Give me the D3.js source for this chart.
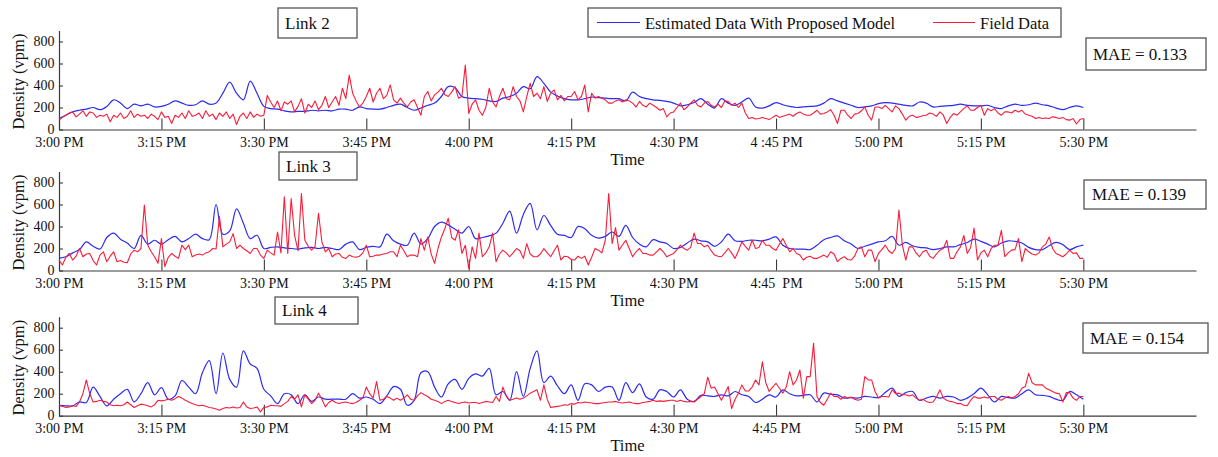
<!DOCTYPE html>
<html>
<head>
<meta charset="utf-8">
<script src="https://cdn.jsdelivr.net/npm/d3@7"></script>
<style>
  body { margin: 0; background: #fff; }
  text { font-family: "Liberation Serif", "Times New Roman", serif; fill: #111; white-space: pre; }
</style>
</head>
<body>
<svg id="chart" width="1218" height="457"></svg>
<script>
// ---- data ---------------------------------------------------------------
const linkNames = ["Link 2", "Link 3", "Link 4"];
const maeValues = [0.133, 0.139, 0.154];
const seriesNames = ["Estimated Data With Proposed Model", "Field Data"];
const yTickValues = [0, 200, 400, 600, 800];
const xTickLabelsLink2 = ["3:00 PM","3:15 PM","3:30 PM","3:45 PM","4:00 PM","4:15 PM","4:30 PM","4 :45 PM","5:00 PM","5:15 PM","5:30 PM"];
const xTickLabelsLink3 = ["3:00 PM","3:15 PM","3:30 PM","3:45 PM","4:00 PM","4:15 PM","4:30 PM","4:45  PM","5:00 PM","5:15 PM","5:30 PM"];
const xTickLabelsLink4 = ["3:00 PM","3:15 PM","3:30 PM","3:45 PM","4:00 PM","4:15 PM","4:30 PM","4:45 PM","5:00 PM","5:15 PM","5:30 PM"];

// Estimated density (vpm), one value per minute from 3:00 PM to 5:30 PM
const link2Estimated = [100,130,160,175,185,200,180,210,270,240,190,230,215,230,205,210,230,260,240,220,
  225,260,230,240,330,430,330,270,440,330,210,190,185,170,160,165,165,175,170,175,
  170,185,185,175,205,190,185,185,200,220,230,200,175,195,220,240,300,390,380,300,
  285,280,275,260,255,285,300,330,390,370,480,420,340,305,280,270,270,280,295,290,
  285,280,280,260,340,300,280,270,265,255,240,215,225,245,280,230,195,280,240,220,
  250,285,205,195,215,245,225,210,200,205,210,215,240,280,260,240,220,200,205,215,
  235,245,240,230,220,215,250,240,205,210,215,220,230,220,215,215,220,200,190,215,
  230,220,225,240,225,215,195,180,200,215,200];
const link3Estimated = [110,125,160,190,260,220,195,300,340,285,250,200,320,240,275,240,280,310,260,290,
  330,290,280,600,330,360,560,430,290,320,200,210,215,205,200,195,205,210,200,210,
  200,190,240,260,190,210,220,215,330,270,240,230,340,240,290,400,440,415,375,340,
  400,290,300,315,340,430,540,340,510,610,370,500,410,330,320,300,400,380,320,295,
  310,350,310,410,300,240,215,280,260,245,200,210,250,285,270,260,220,260,330,270,
  265,275,275,270,285,305,230,200,195,195,190,230,280,300,315,270,240,200,220,240,
  260,270,310,230,255,225,210,205,190,200,215,215,235,255,285,265,240,215,250,270,
  265,250,210,190,190,225,255,235,190,215,230];
const link4Estimated = [95,90,90,125,120,260,175,90,150,200,240,125,200,300,190,255,150,180,320,260,
  200,390,500,200,570,330,260,590,470,430,240,180,110,200,190,110,190,130,170,150,
  150,150,150,200,160,170,150,110,180,265,240,95,140,390,400,260,170,290,330,240,
  340,380,360,430,190,220,140,400,175,430,590,300,360,270,200,280,140,290,280,220,
  260,260,140,300,210,290,170,150,235,220,170,235,150,130,185,180,175,190,180,220,
  190,175,120,150,190,170,235,200,180,185,190,125,205,195,190,160,165,160,175,170,
  165,210,250,175,210,220,140,160,175,160,175,170,140,160,200,250,190,125,175,165,
  160,200,235,190,185,175,150,140,220,190,150];

// Field density (vpm), one value per 30 seconds from 3:00 PM to 5:30 PM
const link2Field = [85,110,130,150,160,115,140,170,120,160,150,110,130,120,140,70,130,110,150,100,
  120,170,110,140,120,130,100,140,120,90,160,110,120,55,130,110,150,100,170,120,
  130,150,100,170,120,140,90,150,120,160,100,140,45,120,150,100,160,110,140,120,
  130,310,250,200,260,170,250,230,260,160,210,280,150,230,200,260,180,220,300,200,
  250,300,220,375,280,495,330,260,205,240,300,375,250,330,375,280,310,405,270,240,
  285,240,205,250,270,200,130,300,345,260,315,340,375,315,300,340,390,285,300,585,
  145,230,270,175,130,200,375,250,205,300,375,280,270,390,300,260,160,300,420,300,
  330,280,390,255,330,360,270,310,260,300,300,345,270,300,405,160,330,285,300,285,
  270,240,240,260,270,250,270,260,240,205,255,220,205,240,220,200,175,190,115,150,
  160,200,240,180,205,240,270,220,205,240,255,220,205,230,200,260,255,220,240,200,
  240,150,100,110,95,100,110,100,90,110,130,110,120,130,140,120,145,160,140,130,
  130,150,175,140,145,160,180,130,55,175,175,130,100,140,145,170,205,130,85,205,
  205,190,220,190,160,215,190,140,85,120,130,110,115,125,130,150,140,120,160,130,
  55,110,145,130,160,190,215,175,175,200,220,130,190,170,190,150,130,160,160,150,
  175,160,175,140,130,120,100,110,100,105,100,115,110,100,110,90,85,100,50,90,
  100];
const link3Field = [95,50,120,155,95,130,200,125,150,155,90,50,140,170,80,130,170,80,90,75,
  70,150,185,170,200,595,230,170,125,65,290,35,120,155,130,110,230,190,230,125,
  140,150,140,160,170,200,195,490,215,240,260,335,200,230,200,180,155,200,200,140,
  110,185,160,140,350,160,670,155,655,320,180,700,275,220,185,220,520,260,170,200,
  125,150,155,120,110,140,125,120,130,160,230,125,130,140,140,150,155,170,170,125,
  230,180,125,140,140,125,290,185,305,150,65,200,305,380,475,300,275,370,155,230,
  20,215,110,340,125,160,215,340,80,150,185,160,125,160,200,180,110,245,150,125,
  125,150,200,160,125,180,230,95,130,125,100,95,130,110,130,50,120,200,185,160,
  275,700,245,390,185,230,275,200,125,170,200,155,155,140,140,170,200,170,125,140,
  155,190,230,200,185,210,340,245,245,215,230,180,140,130,125,160,200,160,110,180,
  260,220,185,275,200,210,275,230,230,200,185,240,290,230,170,200,155,140,95,120,
  130,110,110,125,140,120,170,150,80,110,125,100,95,130,200,215,125,185,185,80,
  155,190,230,180,155,200,550,230,95,215,215,160,125,170,185,130,110,150,185,200,
  275,110,110,170,215,320,155,210,385,95,160,185,125,200,230,230,365,125,160,185,
  190,290,80,200,170,150,140,160,215,240,305,200,155,140,125,150,185,155,160,110,
  110];
const link4Field = [90,85,75,80,90,85,125,200,325,200,125,130,140,130,125,100,90,95,90,100,
  125,100,75,90,105,100,90,80,100,140,135,140,150,140,155,175,160,140,125,110,
  100,90,95,85,75,70,60,50,65,75,70,80,70,75,125,80,65,70,80,35,
  75,80,95,90,90,85,110,130,175,150,190,80,190,150,110,140,205,150,80,120,
  140,120,110,120,125,115,110,120,140,160,260,200,160,310,140,150,175,160,140,160,
  140,160,190,150,140,180,210,190,175,150,140,130,110,130,140,130,120,110,120,125,
  115,120,120,110,120,130,125,120,175,130,260,180,140,150,160,150,160,180,205,220,
  235,140,280,150,75,80,85,90,100,95,110,105,120,115,125,120,115,110,110,115,
  120,125,125,130,120,115,120,125,115,110,110,120,125,130,140,130,135,130,135,140,
  140,130,140,130,125,130,125,150,175,200,350,250,260,200,140,200,265,65,150,205,
  280,225,225,260,325,280,490,300,220,260,295,250,205,260,400,280,325,415,160,355,
  355,660,175,120,95,150,205,175,175,150,175,160,170,150,140,150,355,325,325,220,
  160,175,175,170,235,200,205,190,190,180,190,160,140,150,130,120,125,170,235,160,
  140,130,125,110,110,95,90,140,175,160,160,170,160,175,175,150,140,160,175,160,
  175,200,250,265,385,300,280,280,280,250,235,220,205,200,125,210,210,160,140,175,
  175];

const estimatedSeries = [link2Estimated, link3Estimated, link4Estimated];
const fieldSeries = [link2Field, link3Field, link4Field];
const xTickLabelSets = [xTickLabelsLink2, xTickLabelsLink3, xTickLabelsLink4];

// ---- layout -------------------------------------------------------------
const colorEstimated = "#2b2bf2";
const colorField = "#f81c3a";
const axisColor = "#3a3a3a";
const boxColor = "#555";
const plotLeft = 59, plotRight = 1196, plotHeight = 99;
const panels = [
  { base: 129.5, linkBox: [278, 8, 79, 30],  maeBox: [1086, 38, 120, 32], maeText: 1093 },
  { base: 270.5, linkBox: [279, 152, 78, 28], maeBox: [1084, 180, 122, 29], maeText: 1092 },
  { base: 415.7, linkBox: [275, 297, 83, 27], maeBox: [1083, 323, 125, 30], maeText: 1090 }
];

const t0 = new Date(2000, 0, 1, 15, 0, 0);
const minute = 60000;
const x = d3.scaleTime()
  .domain([t0, new Date(+t0 + 166.5 * minute)])
  .range([plotLeft, plotRight]);
const xTickValues = d3.range(0, 151, 15).map(m => new Date(+t0 + m * minute));

const svg = d3.select("#chart");

panels.forEach((p, k) => {
  const y = d3.scaleLinear().domain([0, 900]).range([p.base, p.base - plotHeight]);
  const g = svg.append("g");

  // x axis with ticks pointing up into the plot
  const xAxis = d3.axisBottom(x)
    .tickValues(xTickValues)
    .tickFormat((d, i) => xTickLabelSets[k][i])
    .tickSize(-11).tickSizeOuter(0).tickPadding(6.5);
  const gx = g.append("g").attr("transform", `translate(0,${p.base})`).call(xAxis);
  gx.selectAll("text").style("font-size", "14px").attr("dy", "0.78em");

  // y axis with short inward ticks
  const yAxis = d3.axisLeft(y).tickValues(yTickValues).tickSize(-4).tickSizeOuter(0).tickPadding(4.5);
  const gy = g.append("g").attr("transform", `translate(${plotLeft},0)`).call(yAxis);
  gy.selectAll("text").style("font-size", "14px").attr("dy", "0.25em");

  [gx, gy].forEach(a => {
    a.select(".domain").attr("stroke", axisColor).attr("stroke-width", 1.2);
    a.selectAll(".tick line").attr("stroke", axisColor).attr("stroke-width", 1.1);
    a.selectAll("text").attr("fill", "#111").style("font-family", '"Liberation Serif", serif');
  });

  // axis titles
  g.append("text")
    .attr("transform", `translate(18.5,${p.base - 48}) rotate(-90)`)
    .attr("text-anchor", "middle").attr("dominant-baseline", "central")
    .style("font-size", "16.5px").text("Density (vpm)");
  g.append("text")
    .attr("x", (plotLeft + plotRight) / 2).attr("y", p.base + 30)
    .attr("text-anchor", "middle").attr("dominant-baseline", "central")
    .style("font-size", "16.5px").text("Time");

  // series
  const lineEst = d3.line()
    .x((d, i) => x(new Date(+t0 + i * minute)))
    .y(d => y(d))
    .curve(d3.curveCatmullRom.alpha(0.5));
  const lineField = d3.line()
    .x((d, i) => x(new Date(+t0 + i * minute / 2)))
    .y(d => y(d));

  g.append("path").datum(estimatedSeries[k])
    .attr("fill", "none").attr("stroke", colorEstimated).attr("stroke-width", 1.2)
    .attr("d", lineEst);
  g.append("path").datum(fieldSeries[k])
    .attr("fill", "none").attr("stroke", colorField).attr("stroke-width", 1.1)
    .attr("stroke-linejoin", "round")
    .attr("d", lineField);

  // link name box
  const [lx, ly, lw, lh] = p.linkBox;
  g.append("rect").attr("x", lx).attr("y", ly).attr("width", lw).attr("height", lh)
    .attr("fill", "#fff").attr("stroke", boxColor).attr("stroke-width", 1.3);
  g.append("text").attr("x", lx + 7).attr("y", ly + lh / 2)
    .attr("dominant-baseline", "central").style("font-size", "17px").text(linkNames[k]);

  // MAE box
  const [mx, my, mw, mh] = p.maeBox;
  g.append("rect").attr("x", mx).attr("y", my).attr("width", mw).attr("height", mh)
    .attr("fill", "#fff").attr("stroke", boxColor).attr("stroke-width", 1.3);
  g.append("text").attr("x", p.maeText).attr("y", my + mh / 2)
    .attr("dominant-baseline", "central").style("font-size", "17px")
    .text(`MAE = ${maeValues[k].toFixed(3)}`);
});

// legend
const legend = svg.append("g");
legend.append("rect").attr("x", 588).attr("y", 8).attr("width", 473).attr("height", 29)
  .attr("fill", "#fff").attr("stroke", boxColor).attr("stroke-width", 1.3);
const legendItems = [
  { name: seriesNames[0], color: colorEstimated, x0: 597, x1: 640, tx: 645 },
  { name: seriesNames[1], color: colorField, x0: 933, x1: 975, tx: 980 }
];
legendItems.forEach(it => {
  legend.append("line").attr("x1", it.x0).attr("x2", it.x1).attr("y1", 22.5).attr("y2", 22.5)
    .attr("stroke", it.color).attr("stroke-width", 1.2);
  legend.append("text").attr("x", it.tx).attr("y", 23)
    .attr("dominant-baseline", "central").style("font-size", "16.5px").text(it.name);
});
</script>
</body>
</html>
